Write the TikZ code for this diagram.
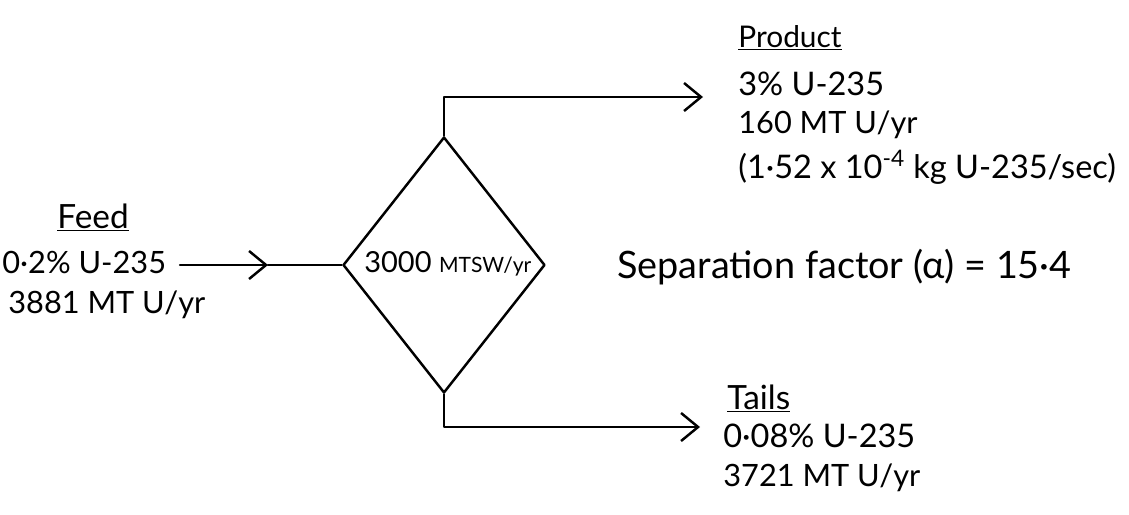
\documentclass[tikz,border=0pt]{standalone}
\usepackage{fontspec}
\setmainfont{Lato}
\usetikzlibrary{shapes.geometric,arrows.meta}

\begin{document}
\begin{tikzpicture}[x=0.02cm, y=-0.02cm,
    flow/.style={line width=1.4pt, line cap=round, line join=round},
    tip/.style={-{Straight Barb[length=0.34cm, width=0.56cm]}},
    txt/.style={anchor=base west, inner sep=0pt, font=\fontsize{17.5}{20}\selectfont},
    head/.style={anchor=base west, inner sep=0pt, font=\fontsize{19}{22}\selectfont},
    big/.style={anchor=base west, inner sep=0pt, font=\fontsize{21.5}{24}\selectfont}]
    \useasboundingbox (0,0) rectangle (1129,514);

    % Enrichment unit
    \node[draw, diamond, flow, minimum width=4.04cm, minimum height=5.12cm, inner sep=0pt] (unit) at (444,265) {};
    \node[txt, font=\fontsize{16.5}{20}\selectfont] (swu) at (364,272) {3000 {\fontsize{12}{15}\selectfont MTSW/yr}};

    % Feed
    \node[head] (feed) at (57,228) {\underline{Feed}};
    \node[txt] (feedpct) at (2,273) {0·2\% U-235};
    \node[txt] (feedflow) at (8,313) {3881 MT U/yr};
    \coordinate (feedin) at (180,265);
    \coordinate (feedmid) at (268,265);
    \draw[flow, tip] (feedin) -- (feedmid);
    \draw[flow] (feedmid) -- (unit.west);

    % Product
    \coordinate (prodout) at (703,97);
    \draw[flow, tip] (unit.north) |- (prodout);
    \node[head, font=\fontsize{17}{20}\selectfont] (prod) at (738,47) {\underline{Product}};
    \node[txt, font=\fontsize{18.5}{20}\selectfont] (prodpct) at (738,95) {3\% U-235};
    \node[txt] (prodflow) at (738,133) {160 MT U/yr};
    \node[txt, font=\fontsize{18.5}{22}\selectfont] (prodrate) at (738,178) {(1·52 x 10\textsuperscript{-4} kg U-235/sec)};

    % Tails
    \coordinate (tailout) at (700,427);
    \draw[flow, tip] (unit.south) |- (tailout);
    \node[head] (tails) at (727,409) {\underline{Tails}};
    \node[txt, font=\fontsize{18.5}{20}\selectfont] (tailpct) at (723,447) {0·08\% U-235};
    \node[txt] (tailflow) at (723,486) {3721 MT U/yr};

    % Separation factor
    \node[big] (sepfac) at (617,278) {Separation factor (α) = 15·4};
\end{tikzpicture}
\end{document}
